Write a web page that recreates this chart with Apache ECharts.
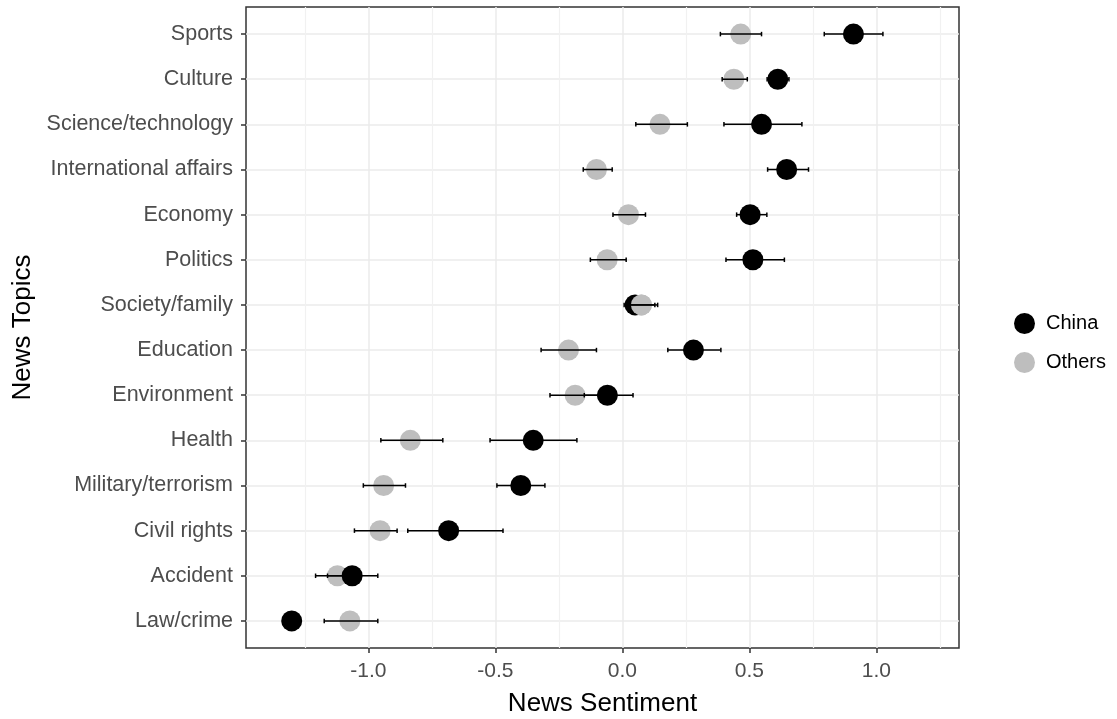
<!DOCTYPE html>
<html>
<head>
<meta charset="utf-8">
<script src="https://cdn.jsdelivr.net/npm/echarts@6/dist/echarts.min.js"></script>
<style>
html,body{margin:0;padding:0;background:#fff;}
#chart{width:1117px;height:719px;}
</style>
</head>
<body>
<div id="chart"></div>
<script>
const categories = ['Sports','Culture','Science/technology','International affairs','Economy','Politics','Society/family','Education','Environment','Health','Military/terrorism','Civil rights','Accident','Law/crime'];

const chinaMean = [0.910, 0.612, 0.548, 0.647, 0.503, 0.514, 0.050, 0.280, -0.059, -0.351, -0.400, -0.684, -1.064, -1.302];
const chinaLow  = [0.795, 0.570, 0.400, 0.572, 0.450, 0.408, 0.007, 0.179, -0.150, -0.521, -0.494, -0.845, -1.161, -1.320];
const chinaHigh = [1.026, 0.656, 0.707, 0.733, 0.569, 0.638, 0.128, 0.388, 0.042, -0.179, -0.305, -0.470, -0.963, -1.285];

const othersMean = [0.466, 0.439, 0.148, -0.102, 0.024, -0.060, 0.075, -0.212, -0.186, -0.835, -0.940, -0.954, -1.122, -1.073];
const othersLow  = [0.386, 0.393, 0.053, -0.154, -0.037, -0.126, 0.020, -0.320, -0.285, -0.951, -1.020, -1.055, -1.208, -1.174];
const othersHigh = [0.548, 0.492, 0.256, -0.040, 0.091, 0.015, 0.139, -0.102, -0.088, -0.707, -0.854, -0.887, -1.035, -0.963];

// topics where the "Others" point is drawn above the "China" point
const othersOnTop = ['Society/family'];

const xMajorTicks = [-1.0, -0.5, 0.0, 0.5, 1.0];
const xMinorTicks = [-1.25, -0.75, -0.25, 0.25, 0.75, 1.25];

const FONT = 'Liberation Sans, Arial, sans-serif';

const chart = echarts.init(document.getElementById('chart'), null, {renderer: 'canvas'});

function renderErr(params, api) {
  const y = api.value(0), lo = api.value(1), hi = api.value(2);
  const p1 = api.coord([lo, y]);
  const p2 = api.coord([hi, y]);
  const h = Math.abs(api.size([0, 0.1])[1]) / 2;
  const style = {stroke: '#000', lineWidth: 1.5};
  return {
    type: 'group',
    children: [
      {type: 'line', shape: {x1: p1[0], y1: p1[1], x2: p2[0], y2: p2[1]}, style: style},
      {type: 'line', shape: {x1: p1[0], y1: p1[1] - h, x2: p1[0], y2: p1[1] + h}, style: style},
      {type: 'line', shape: {x1: p2[0], y1: p2[1] - h, x2: p2[0], y2: p2[1] + h}, style: style}
    ]
  };
}

const idx = categories.map((c, i) => i);

const option = {
  animation: false,
  backgroundColor: '#fff',
  textStyle: {fontFamily: FONT},
  grid: {left: 246, right: 158, top: 7, bottom: 71, show: true, borderColor: '#333', borderWidth: 1.5, backgroundColor: 'transparent', containLabel: false, outerBoundsMode: 'none'},
  legend: {
    orient: 'vertical',
    left: 1009, top: 308,
    itemWidth: 21, itemHeight: 21, itemGap: 18,
    icon: 'circle',
    data: ['China', 'Others'],
    textStyle: {fontFamily: FONT, fontSize: 20, color: '#000', padding: [0, 0, 0, 6]}
  },
  xAxis: [
    {
      type: 'value', min: -1.482, max: 1.3256, position: 'bottom',
      axisLine: {show: false, onZero: false},
      axisTick: {show: true, inside: false, length: 5, lineStyle: {color: '#333', width: 1.5}, customValues: xMajorTicks},
      axisLabel: {customValues: xMajorTicks, formatter: v => Number(v).toFixed(1), fontSize: 21, color: '#4d4d4d', margin: 13, fontFamily: FONT},
      splitLine: {show: true, lineStyle: {color: '#ebebeb', width: 1.5}},
      name: 'News Sentiment', nameLocation: 'middle', nameGap: 43,
      nameTextStyle: {fontSize: 26, color: '#000', fontFamily: FONT}
    },
    {
      type: 'value', min: -1.482, max: 1.3256, position: 'bottom',
      axisLine: {show: false, onZero: false},
      axisTick: {show: false, customValues: xMinorTicks},
      axisLabel: {show: false, customValues: xMinorTicks},
      splitLine: {show: true, lineStyle: {color: '#f1f1f1', width: 1.2}}
    }
  ],
  yAxis: {
    type: 'value', inverse: true, min: -0.6, max: 13.6, position: 'left',
    axisLine: {show: false, onZero: false},
    axisTick: {show: true, inside: false, length: 5, lineStyle: {color: '#333', width: 1.5}, customValues: idx},
    axisLabel: {customValues: idx, formatter: v => categories[Math.round(v)] || '', fontSize: 21.5, color: '#4d4d4d', margin: 13, fontFamily: FONT},
    splitLine: {show: true, lineStyle: {color: '#ebebeb', width: 1.5}},
    name: 'News Topics', nameLocation: 'middle', nameGap: 210, nameRotate: 90,
    nameTextStyle: {fontSize: 26, color: '#000', fontFamily: FONT}
  },
  series: [
    {
      name: 'Others', type: 'scatter', symbol: 'circle', symbolSize: 21, z: 2,
      itemStyle: {color: '#bebebe', opacity: 1},
      data: othersMean.map((v, i) => [v, i])
    },
    {
      name: 'China', type: 'scatter', symbol: 'circle', symbolSize: 21, z: 3,
      itemStyle: {color: '#000', opacity: 1},
      data: chinaMean.map((v, i) => [v, i])
    },
    {
      name: 'Others', type: 'scatter', symbol: 'circle', symbolSize: 21, z: 4,
      itemStyle: {color: '#bebebe', opacity: 1},
      data: categories.map((c, i) => [c, i]).filter(d => othersOnTop.indexOf(d[0]) >= 0).map(d => [othersMean[d[1]], d[1]])
    },
    {
      name: 'errChina', type: 'custom', z: 5, renderItem: renderErr,
      encode: {x: [1, 2], y: 0},
      data: idx.map(i => [i, chinaLow[i], chinaHigh[i]])
    },
    {
      name: 'errOthers', type: 'custom', z: 5, renderItem: renderErr,
      encode: {x: [1, 2], y: 0},
      data: idx.map(i => [i, othersLow[i], othersHigh[i]])
    }
  ]
};

chart.setOption(option);
</script>
</body>
</html>
